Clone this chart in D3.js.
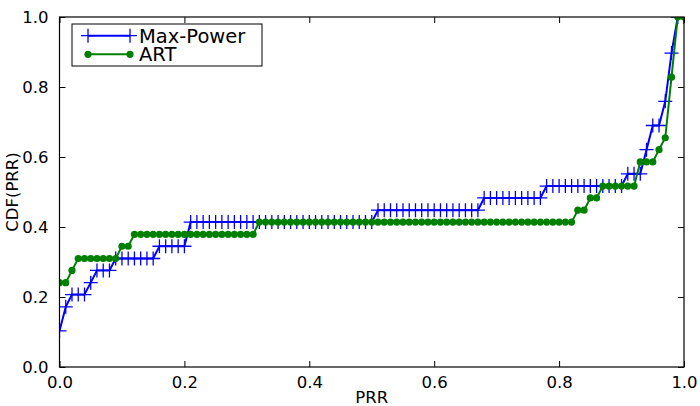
<!DOCTYPE html>
<html>
<head>
<meta charset="utf-8">
<script src="https://cdn.jsdelivr.net/npm/d3@7"></script>
<style>
body { margin: 0; background: #fff; }
svg { display: block; font-family: "DejaVu Sans", sans-serif; }
</style>
</head>
<body>
<svg id="chart" width="700" height="406"></svg>
<script>
// PRR grid, one point every 0.01
var prr = [
	0.00, 0.01, 0.02, 0.03, 0.04, 0.05, 0.06, 0.07, 0.08, 0.09,
	0.10, 0.11, 0.12, 0.13, 0.14, 0.15, 0.16, 0.17, 0.18, 0.19,
	0.20, 0.21, 0.22, 0.23, 0.24, 0.25, 0.26, 0.27, 0.28, 0.29,
	0.30, 0.31, 0.32, 0.33, 0.34, 0.35, 0.36, 0.37, 0.38, 0.39,
	0.40, 0.41, 0.42, 0.43, 0.44, 0.45, 0.46, 0.47, 0.48, 0.49,
	0.50, 0.51, 0.52, 0.53, 0.54, 0.55, 0.56, 0.57, 0.58, 0.59,
	0.60, 0.61, 0.62, 0.63, 0.64, 0.65, 0.66, 0.67, 0.68, 0.69,
	0.70, 0.71, 0.72, 0.73, 0.74, 0.75, 0.76, 0.77, 0.78, 0.79,
	0.80, 0.81, 0.82, 0.83, 0.84, 0.85, 0.86, 0.87, 0.88, 0.89,
	0.90, 0.91, 0.92, 0.93, 0.94, 0.95, 0.96, 0.97, 0.98, 0.99,
	1.00
];

var maxPower = [
	0.103, 0.172, 0.207, 0.207, 0.207, 0.241, 0.276, 0.276, 0.276, 0.310,
	0.310, 0.310, 0.310, 0.310, 0.310, 0.310, 0.345, 0.345, 0.345, 0.345,
	0.345, 0.414, 0.414, 0.414, 0.414, 0.414, 0.414, 0.414, 0.414, 0.414,
	0.414, 0.414, 0.414, 0.414, 0.414, 0.414, 0.414, 0.414, 0.414, 0.414,
	0.414, 0.414, 0.414, 0.414, 0.414, 0.414, 0.414, 0.414, 0.414, 0.414,
	0.414, 0.448, 0.448, 0.448, 0.448, 0.448, 0.448, 0.448, 0.448, 0.448,
	0.448, 0.448, 0.448, 0.448, 0.448, 0.448, 0.448, 0.448, 0.483, 0.483,
	0.483, 0.483, 0.483, 0.483, 0.483, 0.483, 0.483, 0.483, 0.517, 0.517,
	0.517, 0.517, 0.517, 0.517, 0.517, 0.517, 0.517, 0.517, 0.517, 0.517,
	0.517, 0.552, 0.552, 0.552, 0.621, 0.690, 0.690, 0.759, 0.897, 1.000,
	1.000
];

var art = [
	0.241, 0.241, 0.276, 0.310, 0.310, 0.310, 0.310, 0.310, 0.310, 0.310,
	0.345, 0.345, 0.379, 0.379, 0.379, 0.379, 0.379, 0.379, 0.379, 0.379,
	0.379, 0.379, 0.379, 0.379, 0.379, 0.379, 0.379, 0.379, 0.379, 0.379,
	0.379, 0.379, 0.414, 0.414, 0.414, 0.414, 0.414, 0.414, 0.414, 0.414,
	0.414, 0.414, 0.414, 0.414, 0.414, 0.414, 0.414, 0.414, 0.414, 0.414,
	0.414, 0.414, 0.414, 0.414, 0.414, 0.414, 0.414, 0.414, 0.414, 0.414,
	0.414, 0.414, 0.414, 0.414, 0.414, 0.414, 0.414, 0.414, 0.414, 0.414,
	0.414, 0.414, 0.414, 0.414, 0.414, 0.414, 0.414, 0.414, 0.414, 0.414,
	0.414, 0.414, 0.414, 0.448, 0.448, 0.483, 0.483, 0.517, 0.517, 0.517,
	0.517, 0.517, 0.517, 0.586, 0.586, 0.586, 0.621, 0.655, 0.828, 1.000,
	1.000
];

var seriesNames = ["Max-Power", "ART"];
var xTicks = [0.0, 0.2, 0.4, 0.6, 0.8, 1.0];
var yTicks = [0.0, 0.2, 0.4, 0.6, 0.8, 1.0];

var svg = d3.select("#chart"),
	margin = { top: 17, right: 16, bottom: 39, left: 59.5 },
	width = 700 - margin.left - margin.right,
	height = 406 - margin.top - margin.bottom,
	g = svg.append("g").attr("transform", "translate(" + margin.left + "," + margin.top + ")");

var x = d3.scaleLinear().domain([0, 1]).range([0, width]);
var y = d3.scaleLinear().domain([0, 1]).range([height, 0]);

g.append("clipPath").attr("id", "plotClip")
	.append("rect").attr("width", width).attr("height", height);

var fmt = d3.format(".1f");

// axes, ticks pointing inwards on all four sides
var axBottom = g.append("g").attr("transform", "translate(0," + height + ")")
	.call(d3.axisBottom(x).tickValues(xTicks).tickFormat(fmt).tickSizeInner(-6).tickSizeOuter(0).tickPadding(9));
var axTop = g.append("g")
	.call(d3.axisTop(x).tickValues(xTicks).tickFormat("").tickSizeInner(-6).tickSizeOuter(0));
var axLeft = g.append("g")
	.call(d3.axisLeft(y).tickValues(yTicks).tickFormat(fmt).tickSizeInner(-6).tickSizeOuter(0).tickPadding(11));
var axRight = g.append("g").attr("transform", "translate(" + width + ",0)")
	.call(d3.axisRight(y).tickValues(yTicks).tickFormat("").tickSizeInner(-6).tickSizeOuter(0));

[axBottom, axTop, axLeft, axRight].forEach(function (a) {
	a.select(".domain").remove();
	a.selectAll(".tick line").attr("stroke", "#000").attr("stroke-width", 1);
	a.selectAll(".tick text").attr("fill", "#000").style("font-size", "16.5px").style("font-family", "DejaVu Sans");
});

var lineGen = d3.line()
	.x(function (d) { return x(d[0]); })
	.y(function (d) { return y(d[1]); });

var bluePts = prr.map(function (v, i) { return [v, maxPower[i]]; });
var greenPts = prr.map(function (v, i) { return [v, art[i]]; });

var plot = g.append("g").attr("clip-path", "url(#plotClip)");

// Max-Power
plot.append("path").datum(bluePts)
	.attr("d", lineGen).attr("fill", "none")
	.attr("stroke", "#0000ff").attr("stroke-width", 2);
plot.selectAll(".plus").data(bluePts).enter().append("path")
	.attr("class", "plus")
	.attr("transform", function (d) { return "translate(" + x(d[0]) + "," + y(d[1]) + ")"; })
	.attr("d", "M-7,0H7M0,-7V7")
	.attr("stroke", "#0000ff").attr("stroke-width", 1.3).attr("fill", "none");

// ART
plot.append("path").datum(greenPts)
	.attr("d", lineGen).attr("fill", "none")
	.attr("stroke", "#008000").attr("stroke-width", 2);
plot.selectAll(".dot").data(greenPts).enter().append("circle")
	.attr("class", "dot")
	.attr("cx", function (d) { return x(d[0]); })
	.attr("cy", function (d) { return y(d[1]); })
	.attr("r", 3.6)
	.attr("fill", "#008000");

// frame
g.append("rect").attr("width", width).attr("height", height)
	.attr("fill", "none").attr("stroke", "#000").attr("stroke-width", 1.2);

// axis labels
g.append("text")
	.attr("x", width / 2).attr("y", height + 36)
	.attr("text-anchor", "middle")
	.style("font-size", "16.5px")
	.text("PRR");
g.append("text")
	.attr("transform", "rotate(-90)")
	.attr("x", -height / 2).attr("y", -42)
	.attr("text-anchor", "middle")
	.style("font-size", "16.5px")
	.text("CDF(PRR)");

// legend
var legend = g.append("g").attr("transform", "translate(12.5,7)");
legend.append("rect").attr("width", 190).attr("height", 42)
	.attr("fill", "#fff").attr("stroke", "#000").attr("stroke-width", 1);
var rows = legend.selectAll(".row").data(seriesNames).enter().append("g")
	.attr("transform", function (d, i) { return "translate(0," + (11.7 + i * 18.6) + ")"; });
rows.append("line").attr("x1", 16).attr("x2", 58)
	.attr("stroke", function (d, i) { return i == 0 ? "#0000ff" : "#008000"; })
	.attr("stroke-width", 2);
rows.each(function (d, i) {
	var r = d3.select(this);
	[16, 58].forEach(function (px) {
		if (i == 0) {
			r.append("path").attr("transform", "translate(" + px + ",0)")
				.attr("d", "M-7,0H7M0,-7V7").attr("stroke", "#0000ff").attr("stroke-width", 1.3);
		} else {
			r.append("circle").attr("cx", px).attr("r", 3.6).attr("fill", "#008000");
		}
	});
});
rows.append("text").attr("x", 67).attr("dy", "0.35em")
	.style("font-size", "19.5px")
	.text(function (d) { return d; });
</script>
</body>
</html>
